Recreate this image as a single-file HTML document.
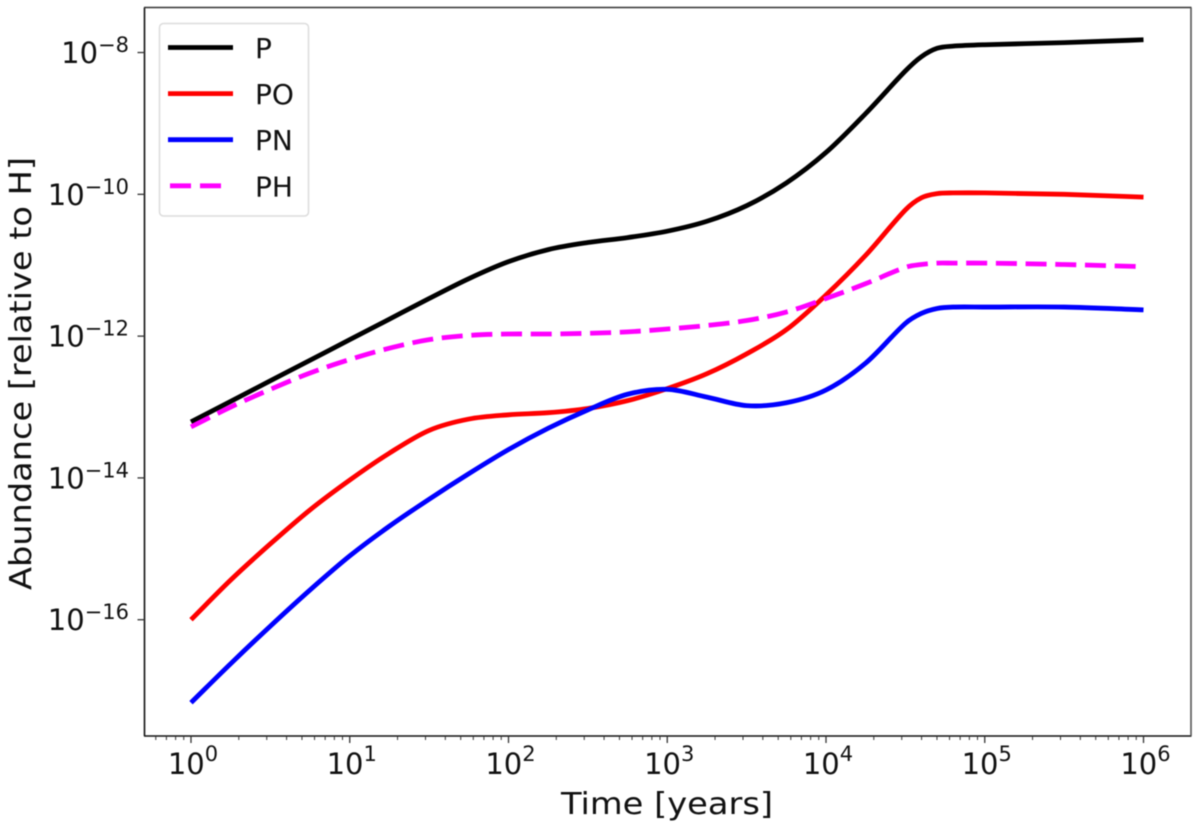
<!DOCTYPE html>
<html lang="en">
<head>
<meta charset="utf-8">
<title>Phosphorus species abundance over time</title>
<style>
  html, body { margin: 0; padding: 0; background: #fff; }
  svg { display: block; filter: blur(0.55px); }
  text { font-family: "DejaVu Sans", "Liberation Sans", sans-serif; fill: #111; }
</style>
</head>
<body>
<svg id="chart" xmlns="http://www.w3.org/2000/svg" width="1200" height="828" viewBox="0 0 1200 828">
  <rect x="0" y="0" width="1200" height="828" fill="#ffffff"/>
  <g id="series" fill="none" stroke-linejoin="round"></g>
  <g id="spines">
    <line x1="144.5" y1="7.5" x2="144.5" y2="736" stroke="#111" stroke-width="1.6"/>
    <line x1="144" y1="736" x2="1191.5" y2="736" stroke="#111" stroke-width="1.6"/>
    <line x1="144" y1="7.5" x2="1191.5" y2="7.5" stroke="#333" stroke-width="1.6"/>
    <line x1="1191" y1="7.5" x2="1191" y2="736" stroke="#555" stroke-width="1.6"/>
  </g>
  <g id="x-axis"></g>
  <g id="y-axis"></g>
  <text x="667" y="814" font-size="30" text-anchor="middle" textLength="212" lengthAdjust="spacingAndGlyphs">Time [years]</text>
  <text transform="translate(31 373.5) rotate(-90)" font-size="30" text-anchor="middle" textLength="433" lengthAdjust="spacingAndGlyphs">Abundance [relative to H]</text>
  <g id="legend">
    <rect x="159.5" y="23.5" width="149" height="192.5" rx="4" ry="4" fill="#fff" fill-opacity="0.8" stroke="#dcdcdc" stroke-width="1.5"/>
  </g>
</svg>
<script>
// Data: log10(time in years) and log10(abundance relative to H).
const logTime = [0,0.25,0.5,0.75,1,1.25,1.5,1.75,2,2.25,2.5,2.75,3,3.25,3.5,3.75,4,4.25,4.5,4.6,4.7,4.8,5,5.5,6];
const logP  = [-13.21,-12.92,-12.63,-12.34,-12.05,-11.76,-11.47,-11.19,-10.95,-10.78,-10.68,-10.61,-10.52,-10.38,-10.16,-9.84,-9.41,-8.86,-8.26,-8.06,-7.94,-7.91,-7.89,-7.86,-7.82];
const logPO = [-16.00,-15.44,-14.93,-14.45,-14.03,-13.65,-13.33,-13.17,-13.11,-13.08,-13.02,-12.91,-12.74,-12.53,-12.25,-11.91,-11.42,-10.86,-10.22,-10.05,-9.99,-9.98,-9.98,-10.00,-10.04];
const logPN = [-17.17,-16.62,-16.09,-15.58,-15.10,-14.68,-14.30,-13.94,-13.60,-13.30,-13.04,-12.82,-12.75,-12.86,-12.98,-12.94,-12.76,-12.38,-11.82,-11.68,-11.61,-11.59,-11.59,-11.59,-11.63];
const logPH = [-13.28,-13.00,-12.75,-12.52,-12.33,-12.17,-12.05,-11.99,-11.97,-11.97,-11.96,-11.94,-11.90,-11.85,-11.78,-11.66,-11.47,-11.26,-11.03,-10.99,-10.97,-10.97,-10.97,-10.99,-11.02];
const xDecades = [0,1,2,3,4,5,6];
const yDecades = [-8,-10,-12,-14,-16];
const legendLabels = ['P','PO','PN','PH'];

const SVG_NS = 'http://www.w3.org/2000/svg';
const plot = { left: 144.5, right: 1191, top: 8, bottom: 736 };
const xDomain = [-0.2929, 6.2992];
const yDomain = [-17.640, -7.372];

function xScale(v) {
  return plot.left + (v - xDomain[0]) / (xDomain[1] - xDomain[0]) * (plot.right - plot.left);
}
function yScale(v) {
  return plot.bottom - (v - yDomain[0]) / (yDomain[1] - yDomain[0]) * (plot.bottom - plot.top);
}
function make(tag, parent) {
  const el = document.createElementNS(SVG_NS, tag);
  parent.appendChild(el);
  return el;
}
function smoothPath(xs, ys) {
  const pts = xs.map(function (x, i) { return [xScale(x), yScale(ys[i])]; });
  let d = 'M' + pts[0][0].toFixed(2) + ' ' + pts[0][1].toFixed(2);
  for (let i = 0; i < pts.length - 1; i++) {
    const p0 = pts[Math.max(i - 1, 0)], p1 = pts[i], p2 = pts[i + 1], p3 = pts[Math.min(i + 2, pts.length - 1)];
    const h = (p2[0] - p1[0]);
    const m1 = (p2[1] - p0[1]) / (p2[0] - p0[0]);
    const m2 = (p3[1] - p1[1]) / (p3[0] - p1[0]);
    d += 'C' + (p1[0] + h / 3).toFixed(2) + ' ' + (p1[1] + m1 * h / 3).toFixed(2) + ' ' +
         (p2[0] - h / 3).toFixed(2) + ' ' + (p2[1] - m2 * h / 3).toFixed(2) + ' ' +
         p2[0].toFixed(2) + ' ' + p2[1].toFixed(2);
  }
  return d;
}

// Series
const seriesGroup = document.getElementById('series');

const lineP = make('path', seriesGroup);


lineP.setAttribute('d', smoothPath(logTime, logP));
lineP.setAttribute('stroke', '#000000');
lineP.setAttribute('stroke-width', '4.8');

const linePO = make('path', seriesGroup);


linePO.setAttribute('d', smoothPath(logTime, logPO));
linePO.setAttribute('stroke', '#ff0000');
linePO.setAttribute('stroke-width', '4.8');

const linePN = make('path', seriesGroup);


linePN.setAttribute('d', smoothPath(logTime, logPN));
linePN.setAttribute('stroke', '#0000ff');
linePN.setAttribute('stroke-width', '4.8');

const linePH = make('path', seriesGroup);


linePH.setAttribute('d', smoothPath(logTime, logPH));
linePH.setAttribute('stroke', '#ff00ff');
linePH.setAttribute('stroke-width', '4.8');
linePH.setAttribute('stroke-dasharray', '21 8.7');

// X axis
const xAxis = document.getElementById('x-axis');
for (let dec = -1; dec <= 6; dec++) {
  for (let m = 1; m <= 9; m++) {
    const v = dec + Math.log10(m);
    if (v < xDomain[0] || v > xDomain[1]) continue;
    const tick = make('line', xAxis);
    
    
    tick.setAttribute('x1', xScale(v));
    tick.setAttribute('x2', xScale(v));
    tick.setAttribute('y1', plot.bottom);
    tick.setAttribute('y2', plot.bottom + (m === 1 ? 7 : 4));
    tick.setAttribute('stroke', '#333');
    tick.setAttribute('stroke-width', m === 1 ? '1.3' : '1');
  }
}
xDecades.forEach(function (d) {
  const label = make('text', xAxis);
  
  
  label.setAttribute('x', xScale(d) + 2);
  label.setAttribute('y', 774);
  label.setAttribute('text-anchor', 'middle');
  label.setAttribute('font-size', '29');
  const base = make('tspan', label);
  base.textContent = '10';
  const sup = make('tspan', label);
  sup.setAttribute('dy', '-13');
  sup.setAttribute('font-size', '21');
  sup.textContent = String(d);
});

// Y axis
const yAxis = document.getElementById('y-axis');
yDecades.forEach(function (d) {
  const tick = make('line', yAxis);
  
  
  tick.setAttribute('x1', plot.left);
  tick.setAttribute('x2', plot.left - 7);
  tick.setAttribute('y1', yScale(d));
  tick.setAttribute('y2', yScale(d));
  tick.setAttribute('stroke', '#333');
  tick.setAttribute('stroke-width', '1.3');

  const label = make('text', yAxis);
  
  
  label.setAttribute('x', 129);
  label.setAttribute('y', yScale(d) + 10.5);
  label.setAttribute('text-anchor', 'end');
  label.setAttribute('font-size', '29');
  const base = make('tspan', label);
  base.textContent = '10';
  const sup = make('tspan', label);
  sup.setAttribute('dy', '-11');
  sup.setAttribute('font-size', '21');
  sup.textContent = '\u2212' + String(Math.abs(d));
});

// Legend
const legend = document.getElementById('legend');
const legendColors = ['#000000', '#ff0000', '#0000ff', '#ff00ff'];
legendLabels.forEach(function (name, i) {
  const y = 47.5 + i * 46.1;
  const sample = make('line', legend);
  
  
  sample.setAttribute('x1', i === 3 ? 170 : 168);
  sample.setAttribute('x2', i === 3 ? 221.5 : 233);
  sample.setAttribute('y1', y);
  sample.setAttribute('y2', y);
  sample.setAttribute('stroke', legendColors[i]);
  sample.setAttribute('stroke-width', '4.8');
  if (i === 3) sample.setAttribute('stroke-dasharray', '21 9');

  const text = make('text', legend);
  
  
  text.setAttribute('x', 255);
  text.setAttribute('y', y + 10.5);
  text.setAttribute('font-size', '28');
  text.textContent = name;
});
</script>
</body>
</html>
